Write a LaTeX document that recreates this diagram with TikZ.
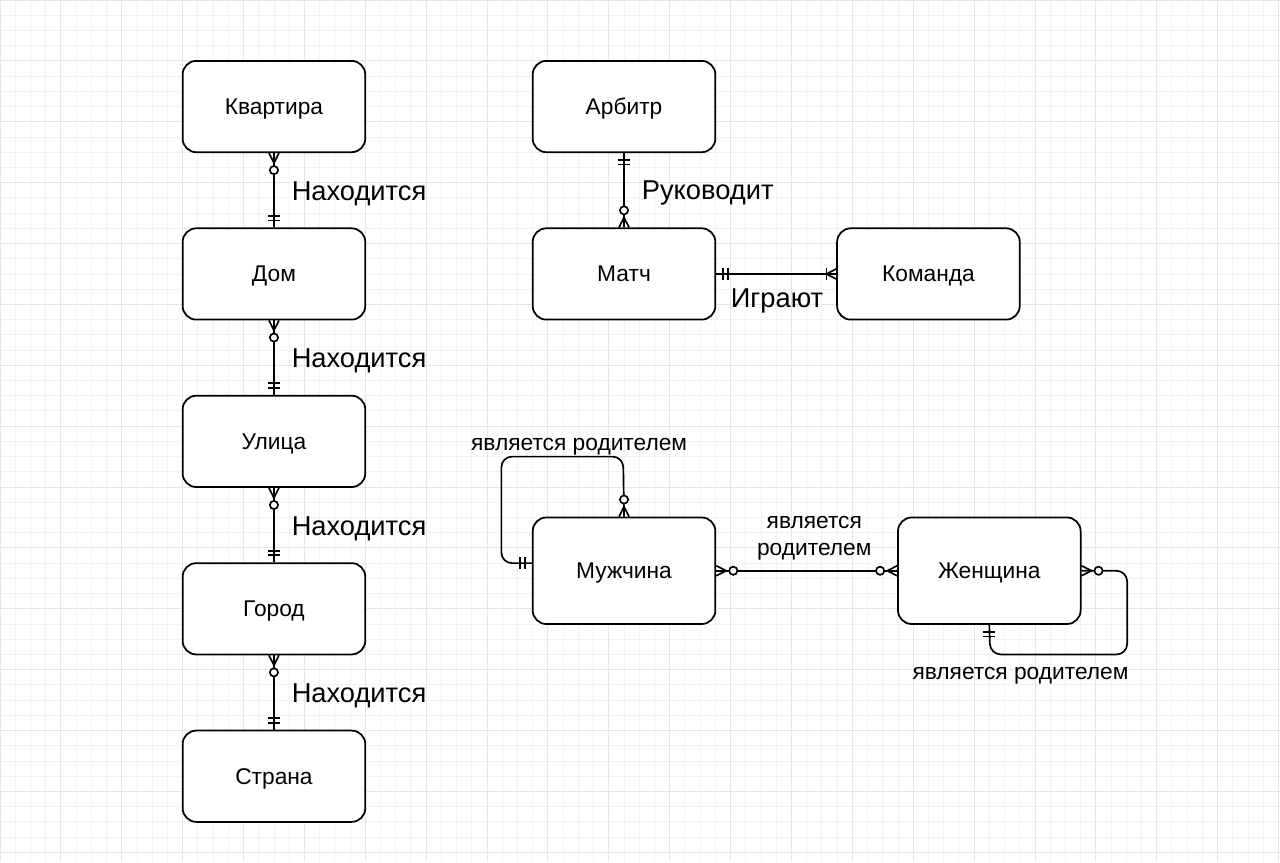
\documentclass[tikz,border=0pt]{standalone}
\usepackage{fontspec}
\setmainfont{Liberation Sans}
\usetikzlibrary{calc}
\newcommand{\erZM}[2]{\begin{scope}[shift={#1},rotate=#2]
  \draw[rel] (0,3.3) -- (6.5,0) -- (0,-3.3);
  \draw[rel,fill=white] (11.2,0) circle[radius=2.7];
\end{scope}}
\newcommand{\erMO}[2]{\begin{scope}[shift={#1},rotate=#2]
  \draw[rel] (4.6,-4) -- (4.6,4) (7.6,-4) -- (7.6,4);
\end{scope}}
\newcommand{\erOM}[2]{\begin{scope}[shift={#1},rotate=#2]
  \draw[rel] (0,3.3) -- (6.5,0) -- (0,-3.3);
  \draw[rel] (6.5,-4) -- (6.5,4);
\end{scope}}
\begin{document}
\begin{tikzpicture}[x=1bp,y=-1bp,
  ent/.style={draw, line width=1.15bp, rounded corners=9bp, minimum width=120bp,
    minimum height=60bp, inner sep=0pt, fill=white, text depth=0pt,
    font=\fontsize{15}{17}\selectfont},
  rel/.style={line width=1.1bp, black},
  biglbl/.style={font=\fontsize{18}{20}\selectfont, inner sep=0pt},
  smlbl/.style={font=\fontsize{15}{17.7}\selectfont, inner sep=0pt, align=center},
  minorgrid/.style={draw=black!5, line width=0.6bp},
  majorgrid/.style={draw=black!10, line width=0.6bp},
]
\useasboundingbox (0,0) rectangle (841,566.4);
\fill[white] (0,0) rectangle (841,566.4);
\foreach \i in {0,10,...,840} {\draw[minorgrid] (\i,0) -- (\i,566.4);}
\foreach \j in {0,10,...,560} {\draw[minorgrid] (0,\j) -- (841,\j);}
\foreach \i in {0,40,...,840} {\draw[majorgrid] (\i,0) -- (\i,566.4);}
\foreach \j in {0,40,...,560} {\draw[majorgrid] (0,\j) -- (841,\j);}

% entities
\node[ent] (kv)  at (180,70)  {Квартира};
\node[ent] (dom) at (180,180) {Дом};
\node[ent] (ul)  at (180,290) {Улица};
\node[ent] (gor) at (180,400) {Город};
\node[ent] (str) at (180,510) {Страна};
\node[ent] (arb) at (410,70)  {Арбитр};
\node[ent] (mat) at (410,180) {Матч};
\node[ent] (kom) at (610,180) {Команда};
\node[ent, minimum height=70bp] (m) at (410,375) {Мужчина};
\node[ent, minimum height=70bp] (w) at (650,375) {Женщина};

% address chain
\draw[rel] (kv.south) -- (dom.north);
\erZM{(kv.south)}{-90} \erMO{(dom.north)}{90}
\draw[rel] (dom.south) -- (ul.north);
\erZM{(dom.south)}{-90} \erMO{(ul.north)}{90}
\draw[rel] (ul.south) -- (gor.north);
\erZM{(ul.south)}{-90} \erMO{(gor.north)}{90}
\draw[rel] (gor.south) -- (str.north);
\erZM{(gor.south)}{-90} \erMO{(str.north)}{90}

\node[biglbl, anchor=west] (l1) at (191.5,127.4) {Находится};
\node[biglbl, anchor=west] (l2) at (191.5,237.4) {Находится};
\node[biglbl, anchor=west] (l3) at (191.5,347.4) {Находится};
\node[biglbl, anchor=west] (l4) at (191.5,457.4) {Находится};

% match
\draw[rel] (arb.south) -- (mat.north);
\erMO{(arb.south)}{-90} \erZM{(mat.north)}{90}
\node[biglbl, anchor=west] (l5) at (421.5,127) {Руководит};
\draw[rel] (mat.east) -- (kom.west);
\erMO{(mat.east)}{0} \erOM{(kom.west)}{180}
\node[biglbl] (l6) at (510.5,198) {Играют};

% family
\coordinate (mL) at ($(m.west)+(0,-5)$);
\draw[rel, rounded corners=7bp] (mL) -- ++(-20,0) -- ++(0,-70) -- ++(80,0) -- (m.north);
\erMO{(mL)}{180} \erZM{(m.north)}{90}
\node[smlbl] (l7) at (380.5,293.5) {является родителем};

\draw[rel] (m.east) -- (w.west);
\erZM{(m.east)}{0} \erZM{(w.west)}{180}
\node[smlbl] (l8) at (535,353.5) {является\\родителем};

\draw[rel, rounded corners=7bp] (w.east) -- ++(30,0) -- ++(0,55) -- ++(-90,0) -- (w.south);
\erZM{(w.east)}{0} \erMO{(w.south)}{-90}
\node[smlbl] (l9) at (670.5,444) {является родителем};
\end{tikzpicture}
\end{document}
